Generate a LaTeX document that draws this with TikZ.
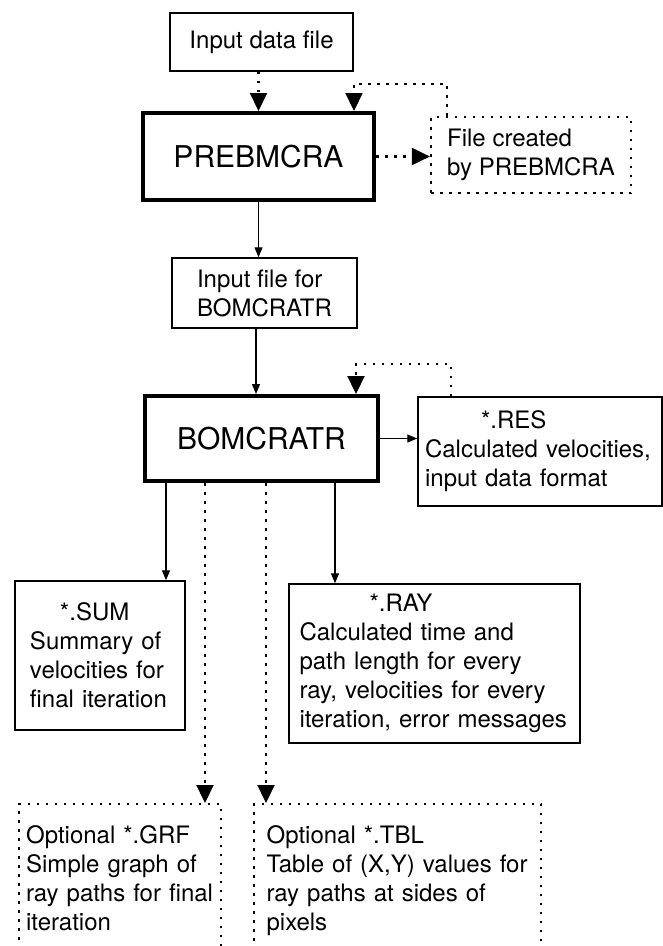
\documentclass[tikz,border=0pt]{standalone}
\usepackage{fontspec}
\setmainfont{TeX Gyre Heros}
\usepackage{tikz}
\usetikzlibrary{arrows.meta}

\tikzset{
  txt/.style={font=\fontsize{24}{29}\selectfont},
  filebox/.style={txt, draw, line width=1.5pt},
  progbox/.style={draw, line width=4pt, font=\fontsize{30}{34}\selectfont},
  optbox/.style={txt, draw, line width=2.2pt, dash pattern=on 2.5pt off 6.5pt, align=left},
  flow/.style={line width=1.3pt, -{Triangle[width=8pt,length=10pt]}},
  optflow/.style={line width=2.2pt, dash pattern=on 2.5pt off 6.5pt, -{Triangle[width=17pt,length=18pt]}},
}

\begin{document}
\begin{tikzpicture}[x=1pt, y=-1pt]
      \useasboundingbox (0, 0) rectangle (663, 946);

      \node[filebox, minimum width=183pt, minimum height=58pt] at (261.5, 42) (inp) {Input data file};
      \node[progbox, minimum width=231pt, minimum height=87pt] at (258.5, 156.5) (preb) {PREBMCRA};
      \node[optbox, minimum width=200pt, minimum height=76pt] at (531, 155) (fout) {File created\\by PREBMCRA};
      \node[filebox, align=left, minimum width=185pt, minimum height=70pt] at (264.5, 293) (infile) {Input file for\\BOMCRATR};
      \node[progbox, minimum width=233pt, minimum height=85pt] at (261.5, 438.5) (bom) {BOMCRATR};
      \node[filebox, align=left, text width=230pt, minimum width=244pt, minimum height=109pt] at (540, 451.5) (res)
        {\hspace*{56pt}*.RES\\Calculated velocities,\\input data format};
      \node[filebox, align=left, text width=140pt, minimum width=170pt, minimum height=149pt] at (100, 655.5) (sum)
        {\hspace*{30pt}*.SUM\\Summary of\\velocities for\\final iteration};
      \node[filebox, align=left, text width=270pt, minimum width=291pt, minimum height=159pt] at (434.5, 663.5) (ray)
        {\hspace*{70pt}*.RAY\\Calculated time and\\path length for every\\ray, velocities for every\\iteration, error messages};
      \node[optbox, anchor=north west, text width=188pt, inner xsep=7pt, inner ysep=21pt, text depth=150pt] at (18, 803) (grf)
        {Optional *.GRF\\Simple graph of\\ray paths for final\\iteration};
      \node[optbox, anchor=north west, text width=262pt, inner xsep=12.5pt, inner ysep=21pt, text depth=150pt] at (253, 803) (tbl)
        {Optional *.TBL\\Table of (X,Y) values for\\ray paths at sides of\\pixels};

      \draw[optflow] (preb.north |- inp.south) -- (preb.north);
      \draw[optflow] (preb.east) -- (preb.east -| fout.west);
      \draw[optflow] ([xshift=17pt]fout.north west) -- ++(0, -32) -| ([xshift=-22pt]preb.north east);
      \draw[flow] (preb.south) -- (preb.south |- infile.north);
      \draw[flow] ([xshift=-5.5pt]bom.north |- infile.south) -- ([xshift=-5.5pt]bom.north);

      \draw[flow] (bom.east) -- (bom.east -| res.west);
      \draw[optflow] ([xshift=34pt]res.north west) -- ++(0, -32) -| ([xshift=-24pt]bom.north east);
      \draw[flow] ([xshift=23pt]bom.south west) -- ([xshift=23pt]bom.south west |- sum.north);
      \draw[flow] ([xshift=-45pt]bom.south east) -- ([xshift=-45pt]bom.south east |- ray.north);
      \foreach \dx/\tgt in {62/grf, 123/tbl} {
        \draw[optflow] ([xshift=\dx pt]bom.south west) -- ([xshift=\dx pt]bom.south west |- \tgt.north);
      }
\end{tikzpicture}
\end{document}
